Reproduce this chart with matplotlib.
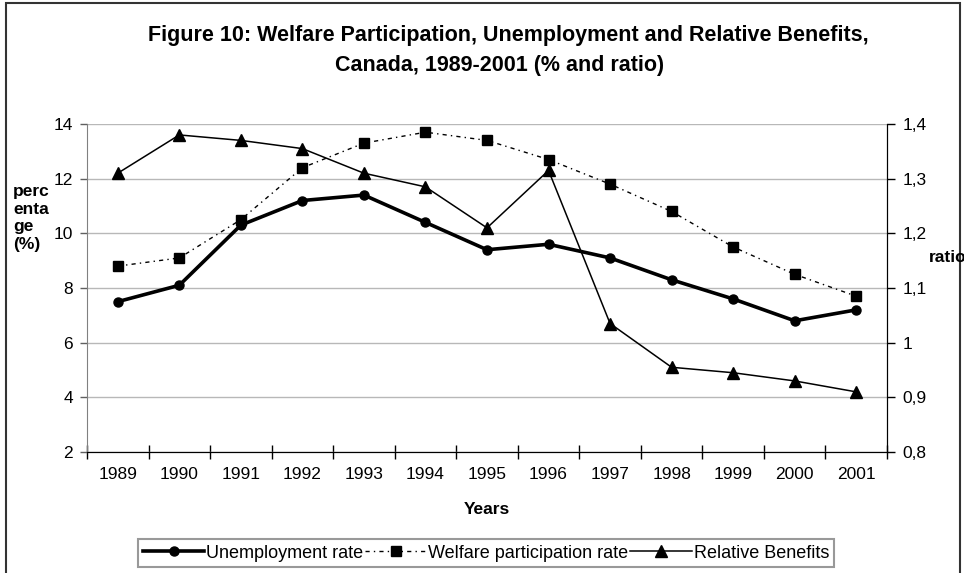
import numpy as np
import matplotlib
matplotlib.use("Agg")
import matplotlib.pyplot as plt
from matplotlib.patches import Rectangle
from matplotlib.ticker import FixedLocator, FuncFormatter

plt.rcParams['font.family'] = ['Liberation Sans', 'DejaVu Sans']

# datos
years = ['1989', '1990', '1991', '1992', '1993', '1994', '1995',
         '1996', '1997', '1998', '1999', '2000', '2001']
unemployment = [7.5, 8.1, 10.3, 11.2, 11.4, 10.4, 9.4, 9.6, 9.1, 8.3, 7.6, 6.8, 7.2]
welfare = [8.8, 9.1, 10.5, 12.4, 13.3, 13.7, 13.4, 12.7, 11.8, 10.8, 9.5, 8.5, 7.7]
rel_benefits = [1.31, 1.38, 1.37, 1.355, 1.31, 1.285, 1.21, 1.315, 1.035,
                0.955, 0.945, 0.93, 0.91]

W, H = 964, 573
fig = plt.figure(figsize=(W / 100, H / 100), dpi=100)
ax = fig.add_axes([87 / W, 1 - 452 / H, 800 / W, 328 / H])
ax2 = ax.twinx()

x = np.arange(len(years))

l1, = ax.plot(x, unemployment, color='black', lw=2.6, marker='o', ms=6.5,
              label='Unemployment rate', zorder=5)
l2, = ax.plot(x, welfare, color='black', lw=1.0, ls=(0, (3, 3, 1, 3)), marker='s',
              ms=7, label='Welfare participation rate', zorder=4)
l3, = ax2.plot(x, rel_benefits, color='black', lw=1.1, marker='^', ms=8,
               label='Relative Benefits', zorder=5)

# eje izquierdo
ax.set_ylim(2, 14)
ax.set_yticks(np.arange(2, 15, 2))
ax.set_xlim(-0.5, len(years) - 0.5)
ax.yaxis.grid(True, color='#b8b8b8', lw=1.0)
ax.set_axisbelow(True)
ax.xaxis.set_major_locator(FixedLocator(np.arange(-0.5, len(years), 1)))
ax.xaxis.set_major_formatter(FuncFormatter(lambda v, p: ''))
ax.set_xticks(x, years, minor=True)
ax.tick_params(axis='x', which='major', direction='inout', length=10, width=1, color='black')
ax.tick_params(axis='x', which='minor', length=0, pad=11, labelsize=12.5)
ax.tick_params(axis='y', direction='out', length=5, width=1, color='#606060',
               labelsize=12.5, pad=5)
ax.set_xlabel('Years', fontsize=12.5, fontweight='bold', labelpad=14)

ax.spines['top'].set_visible(False)
ax2.spines['top'].set_visible(False)
ax.spines['left'].set_color('#808080')
ax.spines['bottom'].set_color('black')
ax2.spines['left'].set_visible(False)
ax2.spines['right'].set_color('black')

# eje derecho
ax2.set_ylim(0.8, 1.4)
ax2.set_yticks([0.8, 0.9, 1.0, 1.1, 1.2, 1.3, 1.4])
ax2.yaxis.set_major_formatter(FuncFormatter(lambda v, p: ('%g' % round(v, 1)).replace('.', ',')))
ax2.tick_params(axis='y', direction='out', length=6, width=1, labelsize=12.5, pad=5)

# titulos
fig.text(508 / W, 1 - 35 / H, 'Figure 10: Welfare Participation, Unemployment and Relative Benefits,',
         ha='center', va='center', fontsize=15.5, fontweight='bold')
fig.text(500 / W, 1 - 65 / H, 'Canada, 1989-2001 (% and ratio)',
         ha='center', va='center', fontsize=15.5, fontweight='bold')
fig.text(13 / W, 1 - 218 / H, 'perc\nenta\nge\n(%)', ha='left', va='center',
         fontsize=12.5, fontweight='bold', linespacing=1.2)
fig.text(929 / W, 1 - 258 / H, 'ratio', ha='left', va='center',
         fontsize=12.5, fontweight='bold')

leg = fig.legend(handles=[l1, l2, l3], loc='center', bbox_to_anchor=(486 / W, 1 - 553 / H),
                 ncol=3, frameon=True, fancybox=False, fontsize=13, handlelength=3.4,
                 handletextpad=0.1, columnspacing=0.1, borderpad=0.3, borderaxespad=0)
leg.get_frame().set_edgecolor('#808080')
leg.get_frame().set_linewidth(1.5)

# marco exterior
fig.patches.append(Rectangle((6 / W, -0.05), 954 / W, 1.05 - 3 / H, transform=fig.transFigure,
                             fill=False, edgecolor='#333333', lw=1.5))

fig.savefig('out.png', dpi=100)
